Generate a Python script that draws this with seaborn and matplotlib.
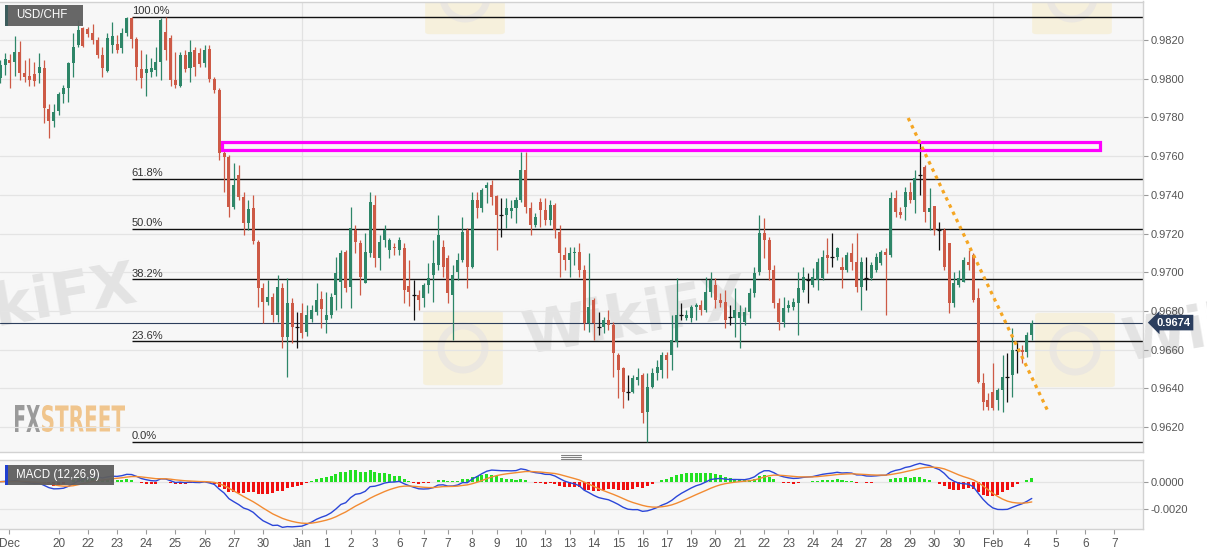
import numpy as np
import pandas as pd
import seaborn as sns
import matplotlib.pyplot as plt
from matplotlib.patches import Rectangle, FancyBboxPatch, PathPatch, Circle
from matplotlib.textpath import TextPath
from matplotlib.font_manager import FontProperties
from matplotlib.transforms import Affine2D, blended_transform_factory
from matplotlib.lines import Line2D

# USD/CHF 4h candles
opens = [0.98002, 0.98070, 0.98097, 0.98088, 0.98140, 0.98028, 0.98014, 0.98025, 0.98028, 0.98057,
         0.97842, 0.97783, 0.97835, 0.97921, 0.97951, 0.98080, 0.98174, 0.98261, 0.98256, 0.98235,
         0.98200, 0.98123, 0.98042, 0.98174, 0.98180, 0.98157, 0.98235, 0.98312, 0.98204, 0.98049,
         0.98031, 0.98036, 0.98045, 0.98088, 0.98243, 0.98209, 0.97994, 0.97963, 0.98123, 0.98054,
         0.98149, 0.98135, 0.98080, 0.98152, 0.97999, 0.97942, 0.97615, 0.97597, 0.97336, 0.97503,
         0.97391, 0.97256, 0.97331, 0.97158, 0.96917, 0.96848, 0.96871, 0.96779, 0.96917, 0.96667,
         0.96840, 0.96719, 0.96788, 0.96693, 0.96757, 0.96796, 0.96860, 0.96753, 0.96779, 0.96882,
         0.96950, 0.97105, 0.96924, 0.97218, 0.97150, 0.96943, 0.97098, 0.97348, 0.97072, 0.97167,
         0.97115, 0.97132, 0.97115, 0.97124, 0.96930, 0.96882, 0.96882, 0.96865, 0.96934, 0.96986,
         0.97038, 0.97132, 0.97072, 0.96882, 0.97003, 0.97063, 0.97218, 0.97029, 0.97373, 0.97331,
         0.97434, 0.97451, 0.97394, 0.97296, 0.97296, 0.97318, 0.97331, 0.97373, 0.97528, 0.97331,
         0.97244, 0.97365, 0.97322, 0.97270, 0.97348, 0.97210, 0.97089, 0.97063, 0.97098, 0.97106,
         0.97012, 0.96736, 0.96857, 0.96719, 0.96719, 0.96753, 0.96727, 0.96572, 0.96504, 0.96383,
         0.96383, 0.96443, 0.96469, 0.96279, 0.96409, 0.96478, 0.96495, 0.96572, 0.96572, 0.96641,
         0.96779, 0.96762, 0.96762, 0.96822, 0.96831, 0.96805, 0.96900, 0.96934, 0.96857, 0.96848,
         0.96770, 0.96762, 0.96762, 0.96745, 0.96796, 0.96891, 0.97003, 0.97201, 0.97167, 0.97012,
         0.96840, 0.96745, 0.96814, 0.96822, 0.96840, 0.96908, 0.96960, 0.96934, 0.96960, 0.96969,
         0.97089, 0.97080, 0.97080, 0.97029, 0.97012, 0.97098, 0.97055, 0.96925, 0.96969, 0.96969,
         0.97012, 0.97046, 0.97106, 0.97089, 0.97382, 0.97313, 0.97339, 0.97416, 0.97373, 0.97503,
         0.97546, 0.97313, 0.97340, 0.97218, 0.97218, 0.97150, 0.96840, 0.96934, 0.96951, 0.97055,
         0.97089, 0.96865, 0.96426, 0.96340, 0.96383, 0.96340, 0.96391, 0.96460, 0.96469, 0.96598,
         0.96598, 0.96590, 0.96676]
highs = [0.98097, 0.98135, 0.98126, 0.98221, 0.98197, 0.98097, 0.98106, 0.98088, 0.98132, 0.98097,
         0.97870, 0.97870, 0.97933, 0.97968, 0.98088, 0.98238, 0.98304, 0.98269, 0.98269, 0.98283,
         0.98217, 0.98166, 0.98235, 0.98295, 0.98226, 0.98261, 0.98321, 0.98321, 0.98214, 0.98149,
         0.98128, 0.98106, 0.98166, 0.98312, 0.98319, 0.98226, 0.98140, 0.98140, 0.98149, 0.98200,
         0.98166, 0.98157, 0.98174, 0.98174, 0.98008, 0.97951, 0.97632, 0.97606, 0.97563, 0.97554,
         0.97416, 0.97373, 0.97399, 0.97167, 0.96943, 0.96960, 0.96891, 0.96986, 0.96943, 0.96969,
         0.96865, 0.96796, 0.96840, 0.96831, 0.96831, 0.96946, 0.96905, 0.96900, 0.96891, 0.97080,
         0.97115, 0.97115, 0.97339, 0.97244, 0.97167, 0.97201, 0.97416, 0.97399, 0.97193, 0.97244,
         0.97176, 0.97151, 0.97184, 0.97150, 0.97063, 0.96960, 0.96908, 0.96943, 0.97046, 0.97167,
         0.97296, 0.97167, 0.97089, 0.97038, 0.97099, 0.97287, 0.97229, 0.97416, 0.97416, 0.97434,
         0.97468, 0.97477, 0.97399, 0.97382, 0.97382, 0.97373, 0.97391, 0.97623, 0.97623, 0.97365,
         0.97305, 0.97382, 0.97382, 0.97373, 0.97356, 0.97244, 0.97132, 0.97132, 0.97132, 0.97150,
         0.97038, 0.97098, 0.96867, 0.96796, 0.96770, 0.96805, 0.96745, 0.96581, 0.96512, 0.96469,
         0.96469, 0.96504, 0.96479, 0.96478, 0.96504, 0.96547, 0.96589, 0.96589, 0.96779, 0.96969,
         0.96840, 0.96805, 0.96831, 0.96840, 0.96857, 0.96977, 0.97003, 0.96969, 0.96891, 0.96908,
         0.96831, 0.96917, 0.96831, 0.96822, 0.96917, 0.97029, 0.97296, 0.97279, 0.97184, 0.97038,
         0.96865, 0.96874, 0.96857, 0.96865, 0.97003, 0.97029, 0.96995, 0.97020, 0.97074, 0.97115,
         0.97176, 0.97201, 0.97132, 0.97080, 0.97106, 0.97150, 0.97201, 0.97080, 0.97080, 0.97055,
         0.97098, 0.97115, 0.97124, 0.97416, 0.97425, 0.97339, 0.97442, 0.97468, 0.97528, 0.97666,
         0.97554, 0.97434, 0.97345, 0.97261, 0.97227, 0.97152, 0.97003, 0.97012, 0.97080, 0.97115,
         0.97098, 0.96917, 0.96478, 0.96374, 0.96530, 0.96400, 0.96572, 0.96581, 0.96710, 0.96641,
         0.96624, 0.96693, 0.96753]
lows = [0.97980, 0.98018, 0.97951, 0.98014, 0.97994, 0.97985, 0.97963, 0.97963, 0.97977, 0.97770,
        0.97692, 0.97752, 0.97813, 0.97873, 0.97881, 0.98011, 0.98166, 0.98166, 0.98214, 0.98180,
        0.98106, 0.98008, 0.98036, 0.98132, 0.98132, 0.98132, 0.98221, 0.98157, 0.97994, 0.97951,
        0.97911, 0.98011, 0.98014, 0.97994, 0.98097, 0.97963, 0.97951, 0.97959, 0.98036, 0.97985,
        0.98014, 0.98059, 0.98062, 0.97985, 0.97925, 0.97580, 0.97416, 0.97287, 0.97325, 0.97373,
        0.97193, 0.97218, 0.97146, 0.96822, 0.96736, 0.96831, 0.96745, 0.96745, 0.96607, 0.96460,
        0.96633, 0.96607, 0.96659, 0.96671, 0.96745, 0.96779, 0.96710, 0.96685, 0.96762, 0.96805,
        0.96814, 0.96900, 0.96814, 0.97098, 0.96882, 0.96943, 0.97080, 0.97029, 0.97012, 0.97132,
        0.97072, 0.97089, 0.97089, 0.96840, 0.96826, 0.96753, 0.96805, 0.96822, 0.96891, 0.96848,
        0.97012, 0.96977, 0.96840, 0.96650, 0.96960, 0.97053, 0.96917, 0.97020, 0.97279, 0.97313,
        0.97356, 0.97348, 0.97115, 0.97184, 0.97227, 0.97279, 0.97253, 0.97365, 0.97305, 0.97193,
        0.97235, 0.97235, 0.97244, 0.97244, 0.97176, 0.96977, 0.97012, 0.96977, 0.97038, 0.96977,
        0.96702, 0.96693, 0.96650, 0.96676, 0.96685, 0.96702, 0.96460, 0.96349, 0.96297, 0.96340,
        0.96375, 0.96417, 0.96219, 0.96124, 0.96400, 0.96443, 0.96452, 0.96452, 0.96495, 0.96615,
        0.96753, 0.96753, 0.96745, 0.96753, 0.96779, 0.96796, 0.96874, 0.96814, 0.96822, 0.96710,
        0.96727, 0.96667, 0.96607, 0.96727, 0.96762, 0.96874, 0.96986, 0.97072, 0.96960, 0.96814,
        0.96702, 0.96719, 0.96796, 0.96805, 0.96676, 0.96900, 0.96840, 0.96925, 0.96908, 0.96960,
        0.96995, 0.97029, 0.97063, 0.96917, 0.97001, 0.97012, 0.96900, 0.96805, 0.96908, 0.96960,
        0.97001, 0.97038, 0.96779, 0.97080, 0.97287, 0.97279, 0.97270, 0.97356, 0.97305, 0.97399,
        0.97261, 0.97218, 0.97193, 0.97115, 0.97012, 0.96788, 0.96822, 0.96925, 0.96950, 0.97012,
        0.96848, 0.96426, 0.96288, 0.96288, 0.96288, 0.96288, 0.96279, 0.96331, 0.96357, 0.96478,
        0.96530, 0.96564, 0.96650]
closes = [0.98071, 0.98101, 0.98083, 0.98140, 0.98028, 0.98008, 0.97994, 0.97990, 0.98059, 0.97847,
          0.97783, 0.97830, 0.97921, 0.97951, 0.98080, 0.98166, 0.98252, 0.98169, 0.98231, 0.98200,
          0.98123, 0.98054, 0.98209, 0.98221, 0.98149, 0.98235, 0.98312, 0.98204, 0.98062, 0.98002,
          0.98049, 0.98054, 0.98088, 0.98304, 0.98149, 0.97994, 0.97968, 0.98123, 0.98049, 0.98140,
          0.98062, 0.98076, 0.98149, 0.97999, 0.97942, 0.97615, 0.97597, 0.97336, 0.97451, 0.97387,
          0.97253, 0.97325, 0.97163, 0.96917, 0.96848, 0.96871, 0.96779, 0.96925, 0.96667, 0.96840,
          0.96719, 0.96719, 0.96688, 0.96779, 0.96805, 0.96857, 0.96809, 0.96779, 0.96871, 0.96995,
          0.97098, 0.96917, 0.97227, 0.97158, 0.96977, 0.97106, 0.97365, 0.97072, 0.97158, 0.97218,
          0.97167, 0.97124, 0.97167, 0.96908, 0.96900, 0.96882, 0.96857, 0.96934, 0.96969, 0.97046,
          0.97193, 0.97029, 0.96891, 0.96986, 0.97063, 0.97210, 0.97029, 0.97373, 0.97331, 0.97425,
          0.97451, 0.97391, 0.97296, 0.97296, 0.97331, 0.97331, 0.97373, 0.97528, 0.97339, 0.97244,
          0.97287, 0.97322, 0.97270, 0.97348, 0.97218, 0.97098, 0.97063, 0.97098, 0.97106, 0.97012,
          0.96736, 0.96822, 0.96736, 0.96719, 0.96753, 0.96727, 0.96581, 0.96495, 0.96383, 0.96383,
          0.96452, 0.96460, 0.96271, 0.96409, 0.96478, 0.96512, 0.96572, 0.96547, 0.96650, 0.96779,
          0.96779, 0.96779, 0.96822, 0.96831, 0.96805, 0.96900, 0.96960, 0.96857, 0.96840, 0.96753,
          0.96770, 0.96805, 0.96796, 0.96796, 0.96891, 0.96995, 0.97201, 0.97167, 0.97012, 0.96840,
          0.96745, 0.96814, 0.96831, 0.96848, 0.96917, 0.96977, 0.96960, 0.96977, 0.97055, 0.97080,
          0.97072, 0.97080, 0.97124, 0.97012, 0.97089, 0.97055, 0.96925, 0.97055, 0.96969, 0.97038,
          0.97080, 0.97106, 0.97089, 0.97382, 0.97313, 0.97296, 0.97416, 0.97373, 0.97486, 0.97503,
          0.97313, 0.97331, 0.97218, 0.97218, 0.97029, 0.96840, 0.96943, 0.96969, 0.97063, 0.97038,
          0.96857, 0.96434, 0.96331, 0.96305, 0.96297, 0.96391, 0.96460, 0.96460, 0.96598, 0.96598,
          0.96590, 0.96676, 0.96740]

tick_pos = [1.85, 12, 18, 24, 30, 36, 42, 48, 54,
            62, 67, 72, 77, 82, 87, 92, 97, 102, 107,
            112, 117, 122, 127, 132, 137, 142, 147, 152, 157,
            162, 167, 172, 177, 182, 187, 192, 197,
            204, 211, 217, 223, 229]
tick_labels = ['Dec', '20', '22', '23', '24', '25', '26', '27', '30',
               'Jan', '1', '2', '3', '6', '7', '7', '8', '9', '10',
               '13', '13', '14', '15', '16', '17', '19', '20', '21', '22',
               '23', '24', '24', '27', '28', '29', '30', '30',
               'Feb', '4', '5', '6', '7']

fib_ratios = [1.0, 0.618, 0.5, 0.382, 0.236, 0.0]
fib_labels = ['100.0%', '61.8%', '50.0%', '38.2%', '23.6%', '0.0%']
fib_start = 27

zone_low, zone_high = 0.97632, 0.97673
zone_start, zone_end = 45.6, 226.1
trend_x = [186.6, 215.4]
trend_y = [0.97797, 0.96278]

GREEN = '#2e8668'
RED = '#cd5a46'

sns.set_theme(style='white')
plt.rcParams['font.family'] = ['Liberation Sans', 'DejaVu Sans']
plt.rcParams['axes.unicode_minus'] = False

W, H = 1207, 555
fig = plt.figure(figsize=(W / 100, H / 100), dpi=100)
fig.patch.set_facecolor('white')
ax = fig.add_axes([0, 1 - 451.7 / H, 1142.7 / W, 450.2 / H])
ax2 = fig.add_axes([0, 1 - 529.3 / H, 1142.7 / W, 69.3 / H])

df = pd.DataFrame({'open': opens, 'high': highs, 'low': lows, 'close': closes})
df['idx'] = np.arange(len(df))
xlim = (-0.05, 234.8)

for a in (ax, ax2):
    a.set_facecolor('#f7f7f7')
    a.set_xlim(*xlim)
    for name, s in a.spines.items():
        s.set_color('#d2d2d2')
        s.set_linewidth(1)
    a.spines['left'].set_visible(False)
    a.set_axisbelow(True)
    for p in (62, 204):
        a.axvline(p, color='#e2e2e2', lw=0.9, zorder=0.6)

# faint watermarks
def wm_logo(cx, cy, clip=True):
    box = FancyBboxPatch((cx / W - 35 / W, 1 - cy / H - 35 / H), 70 / W, 70 / H,
                         boxstyle='round,pad=0.004', transform=fig.transFigure,
                         fc='#f6f0dc', ec='none', zorder=0.3, clip_on=clip)
    ax.add_artist(box)
    ring = Circle((cx, H - cy), 22, transform=None, fill=False, ec='#ebe7e0', lw=5,
                  zorder=0.31, clip_on=clip)
    ax.add_artist(ring)

for cx, cy in [(463, 348), (1075, 350), (465, -3), (1072, -3)]:
    wm_logo(cx, cy)
for cx, cy, clip in [(636, 318, True), (24, 305, True), (1236, 325, False)]:
    ax.text(cx / W, 1 - cy / H, 'WikiFX', transform=fig.transFigure, fontsize=42,
            fontweight='bold', family='DejaVu Sans', color='#e3e3e3', rotation=10,
            ha='center', va='center', zorder=0.35, clip_on=clip)

fp = FontProperties(family='DejaVu Sans', weight='bold')
def stamp(txt, x0, x1, ytop, ybot, color):
    p = TextPath((0, 0), txt, size=10, prop=fp)
    e = p.get_extents()
    tr = (Affine2D().translate(-e.x0, -e.y0)
          .scale((x1 - x0) / e.width, (ybot - ytop) / e.height)
          .translate(x0, H - ybot))
    ax.add_artist(PathPatch(tr.transform_path(p), transform=None, fc=color, ec='none',
                            zorder=0.4))

stamp('FX', 15, 40, 405, 432, '#9a9a9a')
stamp('STREET', 42, 125, 405, 432, '#f0c58d')

# candles
up = df[df.close > df.open]
dn = df[df.close < df.open]
flat = df[np.isclose(df.close, df.open)]
for d, col in [(up, GREEN), (dn, RED), (flat, '#111111')]:
    ax.vlines(d.idx, d.low, d.high, color=col, lw=0.9, zorder=3)
    ax.bar(d.idx, (d.close - d.open).abs(), bottom=np.minimum(d.open, d.close),
           width=0.62, color=col, linewidth=0, zorder=3)
ax.hlines(flat.close, flat.idx - 0.4, flat.idx + 0.4, color='#111111', lw=0.9, zorder=3)

# fibonacci retracement
hi, lo = df.high.max(), df.low.min()
for r, lab in zip(fib_ratios, fib_labels):
    lvl = lo + r * (hi - lo)
    ax.hlines(lvl, fib_start, xlim[1], color='#111111', lw=1.0, zorder=2)
    ax.text(fib_start, lvl + 0.00004, lab, fontsize=8, color='#333333', ha='left', va='bottom',
            zorder=2)

# resistance zone and trend line
ax.add_patch(Rectangle((zone_start, zone_low), zone_end - zone_start, zone_high - zone_low,
                       fill=False, ec='#ff00ff', lw=2.3, zorder=4))
ax.plot(trend_x, trend_y, color='#f5a623', lw=2.3, dashes=(1.1, 1.4), dash_capstyle='butt',
        zorder=5)

# last price
last = df.close.iloc[-1]
ax.axhline(last, color='#2c3e5c', lw=0.8, zorder=2.5)
bt = blended_transform_factory(ax.transAxes, ax.transData)
ax.text(1.012, last, f'{last:.4f}', transform=bt, ha='left', va='center', color='white',
        fontsize=8, fontweight='bold',
        bbox=dict(boxstyle='larrow,pad=0.25', fc='#2b3e5e', ec='none'), zorder=6, clip_on=False)

levels = np.round(np.arange(0.962, 0.9821, 0.002), 4)
ax.set_ylim(0.96073, 0.98399)
ax.set_yticks(levels)
ax.set_yticklabels([f'{v:.4f}' for v in levels])
ax.yaxis.tick_right()
ax.grid(True, axis='y', color='#e4e4e4', lw=0.9)
ax.tick_params(axis='y', right=True, left=False, labelright=True, labelleft=False,
               length=3.6, width=0.8, color='#9a9a9a', labelsize=8, labelcolor='#555555', pad=2)
ax.tick_params(axis='x', bottom=False, labelbottom=False)

# MACD (12,26,9)
cs = df.close
macd = cs.ewm(span=12, adjust=False).mean() - cs.ewm(span=26, adjust=False).mean()
signal = macd.ewm(span=9, adjust=False).mean()
hist = macd - signal
ax2.bar(df.idx, hist, width=0.62, color=np.where(hist >= 0, '#22e022', '#f01010'),
        linewidth=0, zorder=2)
sns.lineplot(x=df.idx, y=macd, ax=ax2, color='#2b46d8', lw=1.0, zorder=3)
sns.lineplot(x=df.idx, y=signal, ax=ax2, color='#f28b32', lw=1.0, zorder=3)
ax2.set_xlim(*xlim)
ax2.set_ylim(-0.00345, 0.00157)
ax2.set_yticks([0, -0.002])
ax2.set_yticklabels(['0.0000', '-0.0020'])
ax2.yaxis.tick_right()
ax2.grid(True, axis='y', color='#e4e4e4', lw=0.9)
ax2.set_xticks(tick_pos)
ax2.set_xticklabels(tick_labels)
ax2.set_xlabel('')
ax2.set_ylabel('')
ax2.tick_params(axis='y', right=True, left=False, labelright=True, labelleft=False,
                length=3.6, width=0.8, color='#9a9a9a', labelsize=8, labelcolor='#555555', pad=2)
ax2.tick_params(axis='x', bottom=True, length=3.6, width=0.8, color='#9a9a9a', labelsize=8.5,
                labelcolor='#555555', pad=3)

# label boxes
def label_box(x, y, w, h, text, stripe):
    fig.add_artist(Rectangle((x / W, 1 - (y + h) / H), w / W, h / H, transform=fig.transFigure,
                             fc='#5f5f5f', ec='none', alpha=0.95, zorder=10))
    fig.add_artist(Rectangle((x / W, 1 - (y + h) / H), 2.5 / W, h / H, transform=fig.transFigure,
                             fc=stripe, ec='none', zorder=11))
    fig.text((x + 11) / W, 1 - (y + h / 2) / H, text, color='white', fontsize=8.3,
             ha='left', va='center', zorder=12)

label_box(5, 5, 78, 21, 'USD/CHF', '#3d5c5c')
label_box(5, 465, 109, 20, 'MACD (12,26,9)', '#1f3fd0')

# panel splitter handle
for yy in (454.5, 456.5, 458.5):
    fig.add_artist(Line2D([561 / W, 581 / W], [1 - yy / H] * 2, color='#808080', lw=0.8))

fig.savefig('out.png', dpi=100)
